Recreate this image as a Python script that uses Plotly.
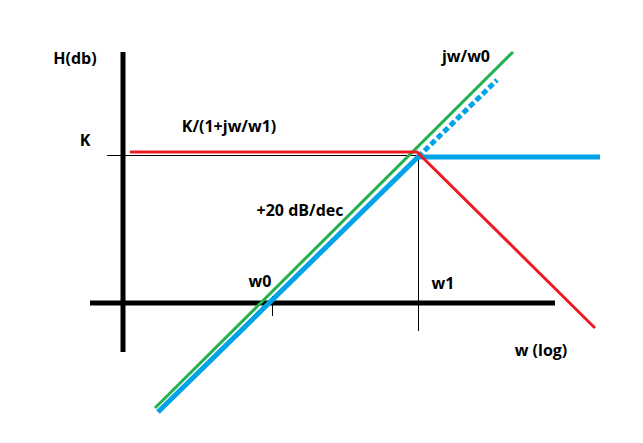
import plotly.graph_objects as go

# Sketch coordinates (picture units: x to the right, y downwards)
axis_v_x = [123, 123]
axis_v_y = [52, 352]
axis_h_x = [90, 555]
axis_h_y = [303, 303]

k_guide_x = [107, 418]
k_guide_y = [155.5, 155.5]
w1_guide_x = [418.5, 418.5]
w1_guide_y = [155, 331]
w0_tick_x = [272.5, 272.5]
w0_tick_y = [296, 316]

green_x = [155, 513]
green_y = [408, 52]

blue_x = [158, 418, 600]
blue_y = [412, 157, 157]
blue_dot_x = [418, 497]
blue_dot_y = [157, 80]

red_x = [130, 417, 595]
red_y = [152, 152, 328]

labels = ["H(db)", "K", "K/(1+jw/w1)", "jw/w0", "+20 dB/dec", "w0", "w1", "w (log)"]
label_x = [75, 85, 229, 466, 300, 260, 443, 541]
label_y = [60, 142, 128, 58, 212, 283, 285, 352]

BLACK = "#000000"
GREEN = "#22B14C"
BLUE = "#00A2E8"
RED = "#ED1C24"

fig = go.Figure()

def seg(x, y, color, width, dash="solid"):
    fig.add_trace(go.Scatter(x=x, y=y, mode="lines",
                             line=dict(color=color, width=width, dash=dash),
                             hoverinfo="skip", showlegend=False))

seg(axis_v_x, axis_v_y, BLACK, 5)
seg(axis_h_x, axis_h_y, BLACK, 5)
seg(k_guide_x, k_guide_y, BLACK, 1)
seg(w1_guide_x, w1_guide_y, BLACK, 1)
seg(w0_tick_x, w0_tick_y, BLACK, 1)
seg(blue_x, blue_y, BLUE, 5)
seg(blue_dot_x, blue_dot_y, BLUE, 5, dash="6px,3px")
seg(green_x, green_y, GREEN, 3)
seg(red_x, red_y, RED, 3)

fig.add_trace(go.Scatter(x=label_x, y=label_y, mode="text", text=labels,
                         textfont=dict(family="Open Sans", size=16, color=BLACK),
                         texttemplate="<b>%{text}</b>",
                         hoverinfo="skip", showlegend=False))

# page has an 8px body margin, so the figure is 635x435 and covers x 8..643, y 8..443
fig.update_layout(width=635, height=435, margin=dict(l=0, r=0, t=0, b=0),
                  paper_bgcolor="white", plot_bgcolor="white")
fig.update_xaxes(range=[8, 643], visible=False, showgrid=False, zeroline=False)
fig.update_yaxes(range=[443, 8], visible=False, showgrid=False, zeroline=False)

fig.write_html("out.html")
